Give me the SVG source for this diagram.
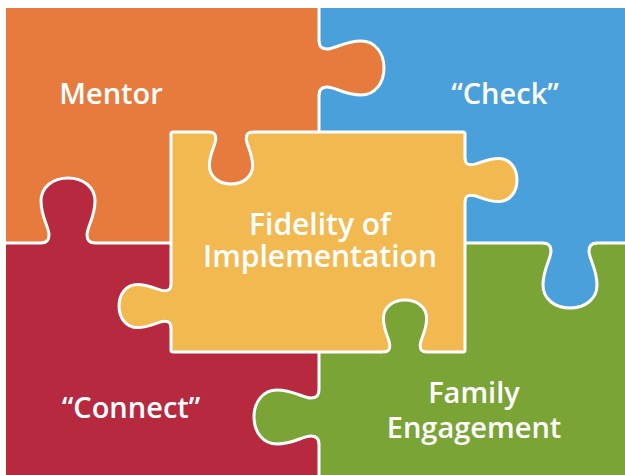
<svg xmlns="http://www.w3.org/2000/svg" xmlns:xlink="http://www.w3.org/1999/xlink" width="625" height="475" viewBox="0 0 625 475">
<style>
.lbl{font-family:"Open Sans","Noto Sans","Liberation Sans",sans-serif;font-weight:600;font-size:29px;fill:#fff;text-anchor:middle}
.big{font-size:30px}
.seam{stroke:#fff;stroke-width:3;fill:none}
</style>
<defs>
<path id="tf" stroke="none" d="M -27,-3 L -27,0 C -21,0 -19,3 -19,8 C -19,16 -27,26 -27,42 C -27,56 -15,65 0,65 C 15,65 27,56 27,42 C 27,26 19,16 19,8 C 19,3 21,0 27,0 L 27,-3 Z"/>
<path id="to" fill="none" stroke="#fff" stroke-width="3" vector-effect="non-scaling-stroke" stroke-linejoin="round" d="M -27,0 C -21,0 -19,3 -19,8 C -19,16 -27,26 -27,42 C -27,56 -15,65 0,65 C 15,65 27,56 27,42 C 27,26 19,16 19,8 C 19,3 21,0 27,0"/>
</defs>
<rect width="625" height="475" fill="#fff"/>
<g id="mentor">
<rect x="6" y="8" width="313" height="235" fill="#E77B3D"/>
<text class="lbl" x="111" y="104">Mentor</text>
</g>
<g id="check">
<rect x="319" y="8" width="310" height="235" fill="#4AA0DA"/>
<text class="lbl" x="505" y="104">“Check”</text>
</g>
<g id="connect">
<rect x="6" y="243" width="313" height="236" fill="#B7293F"/>
<text class="lbl" x="131" y="418">“Connect”</text>
</g>
<g id="family">
<rect x="319" y="243" width="310" height="236" fill="#7BA437"/>
<text class="lbl" x="474" y="403">Family</text>
<text class="lbl" x="474" y="438">Engagement</text>
</g>
<g id="seams">
<line class="seam" x1="319" y1="8" x2="319" y2="480"/>
<line class="seam" x1="6" y1="243" x2="630" y2="243"/>
<g fill="#E77B3D" transform="matrix(0 1 1 0 319 68)"><use href="#tf"/><use href="#to"/></g>
<g fill="#B7293F" transform="matrix(1 0 0 -1 68 243)"><use href="#tf"/><use href="#to"/></g>
<g fill="#4AA0DA" transform="translate(570 243)"><use href="#tf"/><use href="#to"/></g>
<g fill="#7BA437" transform="matrix(0 1 -1 0 319 417)"><use href="#tf"/><use href="#to"/></g>
</g>
<g id="fidelity">
<rect x="171" y="132" width="294" height="220" rx="2" fill="#F2B950" stroke="#fff" stroke-width="3"/>
<g fill="#F2B950" transform="matrix(0 1 1 0 465 180) scale(0.8)"><use href="#tf"/><use href="#to"/></g>
<g fill="#F2B950" transform="matrix(0 1 -1 0 171 306) scale(0.8)"><use href="#tf"/><use href="#to"/></g>
<g fill="#E77B3D" transform="translate(231 132) scale(0.8)"><use href="#tf"/><use href="#to"/></g>
<g fill="#7BA437" transform="matrix(1 0 0 -1 405 352) scale(0.8)"><use href="#tf"/><use href="#to"/></g>
<text class="lbl big" x="320" y="235">Fidelity of</text>
<text class="lbl big" x="320" y="267">Implementation</text>
</g>
</svg>
